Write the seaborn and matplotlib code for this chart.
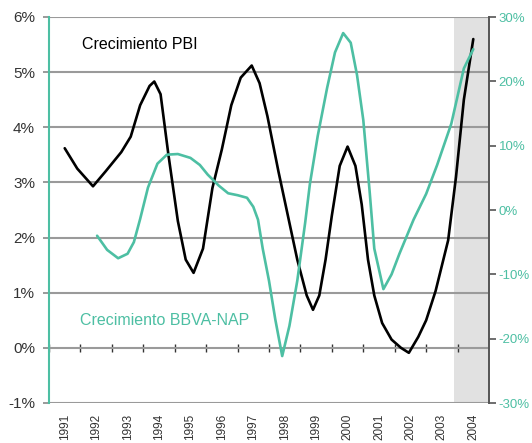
import matplotlib
matplotlib.use("Agg")
import matplotlib.pyplot as plt
import seaborn as sns
import pandas as pd

# GDP growth (left axis, %)
pbi_t = [1991.5, 1991.9, 1992.4, 1992.8, 1993.3, 1993.6, 1993.9, 1994.2, 1994.35,
         1994.55, 1994.8, 1995.1, 1995.35, 1995.6, 1995.9, 1996.2, 1996.5, 1996.8,
         1997.1, 1997.45, 1997.7, 1997.95, 1998.3, 1998.6, 1998.9, 1999.2, 1999.4,
         1999.6, 1999.8, 2000.0, 2000.25, 2000.5, 2000.75, 2000.95, 2001.15, 2001.35,
         2001.6, 2001.9, 2002.2, 2002.45, 2002.75, 2003.0, 2003.3, 2003.7, 2003.95,
         2004.2, 2004.5]
pbi_v = [3.62, 3.25, 2.93, 3.2, 3.55, 3.83, 4.4, 4.75, 4.83,
         4.6, 3.5, 2.3, 1.6, 1.36, 1.8, 2.9, 3.6, 4.4,
         4.9, 5.12, 4.8, 4.2, 3.2, 2.4, 1.6, 0.95, 0.69,
         0.95, 1.6, 2.4, 3.3, 3.65, 3.3, 2.6, 1.6, 0.95,
         0.45, 0.15, 0.0, -0.09, 0.2, 0.5, 1.03, 1.95, 3.1,
         4.5, 5.6]

# BBVA-NAP growth (right axis, %)
nap_t = [1992.53, 1992.85, 1993.2, 1993.5, 1993.7, 1993.9, 1994.15, 1994.45, 1994.75,
         1995.1, 1995.5, 1995.8, 1996.05, 1996.4, 1996.7, 1997.0, 1997.3, 1997.5,
         1997.65, 1997.8, 1998.0, 1998.2, 1998.42, 1998.65, 1998.9, 1999.15, 1999.3,
         1999.55, 1999.85, 2000.1, 2000.36, 2000.6, 2000.8, 2001.0, 2001.2, 2001.35,
         2001.64, 2001.9, 2002.15, 2002.6, 2003.0, 2003.35, 2003.8, 2004.2, 2004.5]
nap_v = [-4.0, -6.2, -7.5, -6.8, -5.0, -1.4, 3.5, 7.2, 8.6,
         8.7, 8.1, 7.0, 5.5, 3.8, 2.6, 2.3, 1.9, 0.5,
         -1.5, -6.0, -11.0, -17.0, -22.7, -18.0, -11.0, -2.0, 4.0,
         11.5, 19.0, 24.5, 27.5, 26.0, 21.0, 14.0, 3.0, -6.0,
         -12.3, -10.0, -6.8, -1.5, 2.5, 7.0, 13.4, 22.0, 25.0]

years = list(range(1991, 2005))
left_ticks = [-1, 0, 1, 2, 3, 4, 5, 6]
right_ticks = [-30, -20, -10, 0, 10, 20, 30]

teal = "#4dbfa3"
grid_grey = "#9a9a9a"
narrow = ["Liberation Sans Narrow", "DejaVu Sans Condensed", "Liberation Sans"]

sns.set_theme(style="white")
plt.rcParams["font.family"] = ["Liberation Sans", "DejaVu Sans"]

fig = plt.figure(figsize=(5.32, 4.43), dpi=100)
ax = fig.add_axes([49 / 532, 40 / 443, 440 / 532, 386 / 443])
ax2 = ax.twinx()

df_pbi = pd.DataFrame({"t": pbi_t, "v": pbi_v})
df_nap = pd.DataFrame({"t": nap_t, "v": nap_v})

ax.axvspan(2003.9, 2005, color="#e1e1e1", lw=0, zorder=0)
for yv in left_ticks:
    ax.axhline(yv, color=grid_grey, lw=1.5, zorder=1)

sns.lineplot(data=df_pbi, x="t", y="v", ax=ax, color="black", lw=1.9,
             sort=False, zorder=3)
sns.lineplot(data=df_nap, x="t", y="v", ax=ax2, color=teal, lw=1.9,
             sort=False, zorder=3)

ax.set_xlim(1991, 2005)
ax.set_ylim(-1, 6)
ax2.set_ylim(-30, 30)
ax.set_xlabel("")
ax.set_ylabel("")
ax2.set_ylabel("")

# left axis
ax.set_yticks(left_ticks)
ax.set_yticklabels([f"{v}%" for v in left_ticks], family=narrow,
                   fontsize=11, color="#333333")
ax.tick_params(axis="y", left=True, length=4, width=1.4, color=grid_grey, pad=6)

# year labels centred in each year
ax.set_xticks([y + 0.5 for y in years])
ax.set_xticklabels([str(y) for y in years], rotation=90, family=narrow,
                   fontsize=8.5, color="#333333")
ax.tick_params(axis="x", length=0, pad=8)

# year boundary ticks on the 0% line
sec = ax.secondary_xaxis(1 / 7)
sec.set_xticks(years)
sec.set_xticklabels([])
sec.tick_params(axis="x", direction="inout", length=6, width=1.0, color="#333333")
sec.spines["bottom"].set_visible(False)

# right axis
ax2.set_yticks(right_ticks)
ax2.set_yticklabels([f"{v}%" for v in right_ticks], family=narrow,
                    fontsize=9.5, color=teal)
ax2.tick_params(axis="y", right=True, length=5, width=1.2, color="#555555", pad=2)

for a in (ax, ax2):
    for side in ("top", "bottom", "left", "right"):
        a.spines[side].set_visible(False)
ax2.spines["left"].set_visible(True)
ax2.spines["left"].set_color(teal)
ax2.spines["left"].set_linewidth(1.5)
ax2.spines["right"].set_visible(True)
ax2.spines["right"].set_color("#555555")
ax2.spines["right"].set_linewidth(1.4)

ax.text(1992.06, 5.5, "Crecimiento PBI", fontsize=11.5, color="black",
        va="center", ha="left")
ax.text(1992.0, 0.49, "Crecimiento BBVA-NAP", fontsize=11.5, color=teal,
        va="center", ha="left")

fig.savefig("out.png", dpi=100)
